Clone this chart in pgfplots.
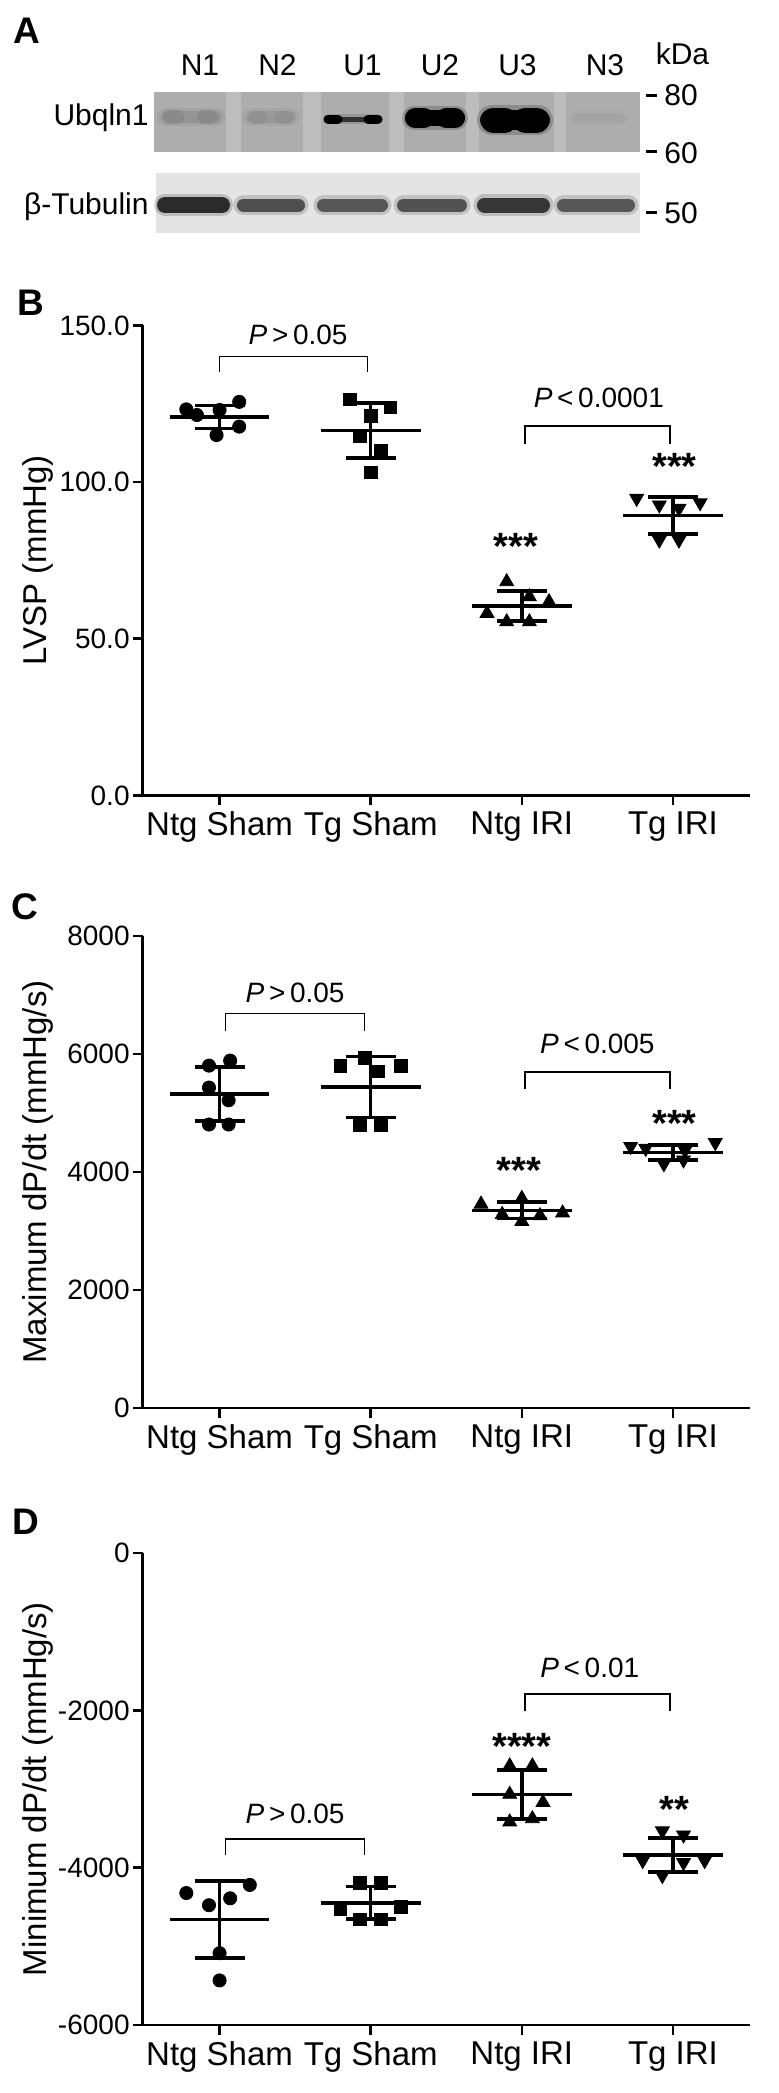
\documentclass[border=0pt]{standalone}
\usepackage{pgfplots}
\pgfplotsset{compat=1.18}
\usepackage{fontspec}
\setmainfont{Liberation Sans}

\definecolor{ubbg}{HTML}{ADADAD}
\definecolor{ubstripe}{HTML}{BDBDBD}
\definecolor{tubbg}{HTML}{E4E4E4}

\tikzset{
  ptxt/.style={font=\fontsize{14}{16}\selectfont},
  star/.style={font=\bfseries\fontsize{19}{20}\selectfont, anchor=base, yshift=-11pt},
  letter/.style={anchor=west, inner sep=0pt, font=\bfseries\fontsize{18.5}{20}\selectfont},
}

\pgfplotsset{
  panel/.style={
    scale only axis, width=303.75pt,
    axis lines*=left, axis line style={-, line width=1.3pt},
    tick style={line width=1.3pt, black}, major tick length=4.75pt, tick align=outside,
    xmin=-0.51, xmax=3.51, xtick={0,1,2,3},
    xticklabels={Ntg Sham, Tg Sham, Ntg IRI, Tg IRI},
    x tick label style={font=\fontsize{16.5}{18}\selectfont},
    y tick label style={font=\fontsize{14}{16}\selectfont, inner sep=1.5pt},
    ylabel style={font=\fontsize{16.5}{18}\selectfont, at={(axis description cs:-0.172,0.5)}, anchor=center},
    unbounded coords=jump, clip=false,
  },
  circ/.style={only marks, black, mark=*, mark size=3.3pt},
  sqr/.style={only marks, black, mark=square*, mark size=3.2pt},
  tup/.style={only marks, black, mark=triangle*, mark size=4pt},
  tdn/.style={only marks, black, mark=triangle*, mark size=4pt, mark options={rotate=180}},
  msd/.style={black, line width=1.8pt, mark=none},
  brk/.style={black, line width=0.7pt, mark=none},
  pill/.style={mark=none, line cap=round},
}

\begin{document}
\begin{tikzpicture}
\path[use as bounding box] (0,0) rectangle (389.5pt,-1046.5pt);

% panel letters
\node[letter] at (6.5pt,-15.5pt) {A};
\node[letter] at (8.5pt,-151.25pt) {B};
\node[letter] at (5.5pt,-453.5pt) {C};
\node[letter] at (6.25pt,-761pt) {D};

% ---------- A: western blot (pixel coordinates) ----------
\begin{axis}[
  at={(70pt,-122.5pt)}, anchor=south west,
  scale only axis, width=260pt, height=82.5pt,
  xmin=140, xmax=660, ymin=80, ymax=245, y dir=reverse,
  hide axis, clip=false,
]
% backgrounds
\addplot[draw=none, fill=ubbg] coordinates {(153.5,92)(639.5,92)(639.5,151.5)(153.5,151.5)};
\addplot[draw=none, fill=ubstripe] coordinates {(226,92)(241,92)(241,151.5)(226,151.5)};
\addplot[draw=none, fill=ubstripe] coordinates {(303,92)(321,92)(321,151.5)(303,151.5)};
\addplot[draw=none, fill=ubstripe] coordinates {(389,92)(404,92)(404,151.5)(389,151.5)};
\addplot[draw=none, fill=ubstripe] coordinates {(466,92)(479,92)(479,151.5)(466,151.5)};
\addplot[draw=none, fill=ubstripe] coordinates {(554,92)(566,92)(566,151.5)(554,151.5)};
\addplot[draw=none, fill=tubbg] coordinates {(156,173)(639.5,173)(639.5,233)(156,233)};

% Ubqln1 bands
\addplot[pill, color=black!40, line width=9pt, opacity=0.45] coordinates {(166,117)(216,117)};
\addplot[pill, color=black!42, line width=6pt] coordinates {(167,117)(215,117)};
\addplot[pill, color=black!47, line width=7pt, opacity=0.7] coordinates {(170,117)(177,117)};
\addplot[pill, color=black!47, line width=7pt, opacity=0.7] coordinates {(204,117)(211,117)};
\addplot[pill, color=black!38, line width=9pt, opacity=0.45] coordinates {(251,117)(291,117)};
\addplot[pill, color=black!40, line width=6pt] coordinates {(252,117)(290,117)};
\addplot[pill, color=black!44, line width=6.5pt, opacity=0.7] coordinates {(255,117)(261,117)};
\addplot[pill, color=black!44, line width=6.5pt, opacity=0.7] coordinates {(281,117)(287,117)};
\addplot[pill, color=black!50, line width=5pt, opacity=0.5] coordinates {(328,119)(378,119)};
\addplot[pill, color=black!80, line width=2.5pt] coordinates {(330,119)(376,119)};
\addplot[pill, color=black, line width=4.5pt] coordinates {(328,119)(338,119)};
\addplot[pill, color=black, line width=4.5pt] coordinates {(368,119)(378,119)};
\addplot[pill, color=black!60, line width=12pt, opacity=0.45] coordinates {(414,118)(456,118)};
\addplot[pill, color=black, line width=8pt] coordinates {(413,118)(457,118)};
\addplot[pill, color=black, line width=10pt] coordinates {(415,118)(424,118)};
\addplot[pill, color=black, line width=10pt] coordinates {(446,118)(455,118)};
\addplot[pill, color=black!60, line width=15pt, opacity=0.45] coordinates {(492,120)(538,120)};
\addplot[pill, color=black, line width=10pt] coordinates {(490,120)(540,120)};
\addplot[pill, color=black, line width=12.5pt] coordinates {(493,120)(505,120)};
\addplot[pill, color=black, line width=12.5pt] coordinates {(525,120)(537,120)};
\addplot[pill, color=black!33, line width=8pt, opacity=0.5] coordinates {(576,118)(621,118)};
\addplot[pill, color=black!36, line width=5pt] coordinates {(577,118)(620,118)};

% beta-tubulin bands
\addplot[pill, color=black!55, line width=11pt, opacity=0.35] coordinates {(165,205)(222,205)};
\addplot[pill, color=black!83, line width=8pt] coordinates {(165,205)(222,205)};
\addplot[pill, color=black!50, line width=10pt, opacity=0.35] coordinates {(243.5,205)(298.5,205)};
\addplot[pill, color=black!69, line width=6.5pt] coordinates {(243.5,205)(298.5,205)};
\addplot[pill, color=black!50, line width=10pt, opacity=0.35] coordinates {(323.5,205)(381.5,205)};
\addplot[pill, color=black!66, line width=6.5pt] coordinates {(323.5,205)(381.5,205)};
\addplot[pill, color=black!50, line width=10pt, opacity=0.35] coordinates {(403.5,205)(460.5,205)};
\addplot[pill, color=black!68, line width=6.5pt] coordinates {(403.5,205)(460.5,205)};
\addplot[pill, color=black!55, line width=11pt, opacity=0.35] coordinates {(484.5,205)(542.5,205)};
\addplot[pill, color=black!79, line width=7.5pt] coordinates {(484.5,205)(542.5,205)};
\addplot[pill, color=black!50, line width=10pt, opacity=0.35] coordinates {(563.5,205)(628.5,205)};
\addplot[pill, color=black!66, line width=6.5pt] coordinates {(563.5,205)(628.5,205)};

% marker dashes
\addplot[black, line width=1.5pt, mark=none] coordinates {(646,95)(657,95)};
\addplot[black, line width=1.5pt, mark=none] coordinates {(646,151)(657,151)};
\addplot[black, line width=1.5pt, mark=none] coordinates {(646,212)(657,212)};

\begin{scope}[font=\fontsize{15}{17}\selectfont]
\node at (axis cs:200,65) {N1};
\node at (axis cs:277.5,65) {N2};
\node at (axis cs:362.5,65) {U1};
\node at (axis cs:440,65) {U2};
\node at (axis cs:517.5,65) {U3};
\node at (axis cs:605,65) {N3};
\node at (axis cs:682.5,54) {kDa};
\node[anchor=west, inner sep=0pt] at (axis cs:664,95) {80};
\node[anchor=west, inner sep=0pt] at (axis cs:664,153) {60};
\node[anchor=west, inner sep=0pt] at (axis cs:664,213) {50};
\node[anchor=east, inner sep=0pt] at (axis cs:149,118) {Ubqln1};
\node[anchor=east, inner sep=0pt] at (axis cs:149,207) {β-Tubulin};
\end{scope}
\end{axis}

% ---------- B: LVSP ----------
\begin{axis}[panel,
  at={(71.25pt,-397.7pt)}, anchor=south west, height=235pt,
  ymin=0, ymax=150, ytick={0,50,100,150},
  yticklabels={0.0,50.0,100.0,150.0},
  ylabel={LVSP (mmHg)},
]
\addplot[circ] coordinates {(-0.22,123.2)(-0.15,121.4)(0.13,125.6)(0.13,117.7)(-0.02,115.0)(0,123.0)};
\addplot[sqr] coordinates {(0.86,126.4)(1.13,123.8)(1.0,121.2)(0.93,114.6)(1.07,110.1)(1.0,103.1)};
\addplot[tup] coordinates {(1.9,68.2)(2.05,63.4)(2.18,61.8)(1.77,58.1)(1.9,55.4)(2.05,55.4)};
\addplot[tdn] coordinates {(2.76,94.8)(2.91,92.7)(3.04,91.6)(3.18,93.4)(2.91,81.5)(3.04,81.5)};
% mean and SD
\addplot[msd] coordinates {(-0.33,120.8)(0.33,120.8)(0,nan)(0,117.1)(0,124.5)(0,nan)(-0.165,124.5)(0.165,124.5)(0,nan)(-0.165,117.1)(0.165,117.1)};
\addplot[msd] coordinates {(0.67,116.4)(1.33,116.4)(1,nan)(1,107.6)(1,125.2)(1,nan)(0.835,125.2)(1.165,125.2)(1,nan)(0.835,107.6)(1.165,107.6)};
\addplot[msd] coordinates {(1.67,60.5)(2.33,60.5)(2,nan)(2,55.7)(2,65.3)(2,nan)(1.835,65.3)(2.165,65.3)(2,nan)(1.835,55.7)(2.165,55.7)};
\addplot[msd] coordinates {(2.67,89.3)(3.33,89.3)(3,nan)(3,83.4)(3,95.2)(3,nan)(2.835,95.2)(3.165,95.2)(3,nan)(2.835,83.4)(3.165,83.4)};
% comparisons
\addplot[brk] coordinates {(0,135.2)(0,140.0)(0.98,140.0)(0.98,135.2)};
\addplot[brk] coordinates {(2.02,112.3)(2.02,117.9)(2.98,117.9)(2.98,112.3)};
\node[ptxt] at (axis cs:0.52,147.0) {\textit{P}\,>\,0.05};
\node[ptxt] at (axis cs:2.51,126.8) {\textit{P}\,<\,0.0001};
\node[star] at (axis cs:1.96,82.2) {***};
\node[star] at (axis cs:3.01,107.7) {***};
\end{axis}

% ---------- C: maximum dP/dt ----------
\begin{axis}[panel,
  at={(71.25pt,-704pt)}, anchor=south west, height=236pt,
  ymin=0, ymax=8000, ytick={0,2000,4000,6000,8000},
  yticklabels={0,2000,4000,6000,8000},
  ylabel={Maximum dP/dt (mmHg/s)},
]
\addplot[circ] coordinates {(-0.07,5803)(0.07,5888)(-0.07,5431)(0.06,5216)(-0.07,4805)(0.06,4805)};
\addplot[sqr] coordinates {(0.8,5803)(1.2,5803)(1.05,5705)(0.96,5930)(0.93,4792)(1.07,4792)};
\addplot[tup] coordinates {(1.73,3456)(2.0,3553)(2.27,3306)(1.87,3280)(2.12,3260)(2.0,3162)};
\addplot[tdn] coordinates {(2.72,4434)(3.28,4499)(2.82,4401)(3.08,4368)(2.94,4140)(3.07,4205)};
\addplot[msd] coordinates {(-0.33,5325)(0.33,5325)(0,nan)(0,4865)(0,5785)(0,nan)(-0.165,5785)(0.165,5785)(0,nan)(-0.165,4865)(0.165,4865)};
\addplot[msd] coordinates {(0.67,5440)(1.33,5440)(1,nan)(1,4925)(1,5955)(1,nan)(0.835,5955)(1.165,5955)(1,nan)(0.835,4925)(1.165,4925)};
\addplot[msd] coordinates {(1.67,3350)(2.33,3350)(2,nan)(2,3210)(2,3490)(2,nan)(1.835,3490)(2.165,3490)(2,nan)(1.835,3210)(2.165,3210)};
\addplot[msd] coordinates {(2.67,4330)(3.33,4330)(3,nan)(3,4200)(3,4460)(3,nan)(2.835,4460)(3.165,4460)(3,nan)(2.835,4200)(3.165,4200)};
\addplot[brk] coordinates {(0.04,6390)(0.04,6683)(0.96,6683)(0.96,6390)};
\addplot[brk] coordinates {(2.02,5399)(2.02,5692)(2.98,5692)(2.98,5399)};
\node[ptxt] at (axis cs:0.5,7042) {\textit{P}\,>\,0.05};
\node[ptxt] at (axis cs:2.5,6174) {\textit{P}\,<\,0.005};
\node[star] at (axis cs:1.98,4173) {***};
\node[star] at (axis cs:3.01,4975) {***};
\end{axis}

% ---------- D: minimum dP/dt ----------
\begin{axis}[panel,
  at={(71.25pt,-1012.5pt)}, anchor=south west, height=236pt,
  ymin=-6000, ymax=0, ytick={-6000,-4000,-2000,0},
  yticklabels={-6000,-4000,-2000,0},
  ylabel={Minimum dP/dt (mmHg/s)},
]
\addplot[circ] coordinates {(-0.22,-4322)(0.2,-4219)(-0.07,-4477)(0.07,-4389)(0,-5087)(0,-5433)};
\addplot[sqr] coordinates {(0.93,-4193)(1.07,-4193)(0.8,-4529)(1.2,-4503)(0.93,-4658)(1.07,-4658)};
\addplot[tup] coordinates {(1.92,-2706)(2.07,-2706)(1.92,-3067)(2.14,-3171)(1.92,-3419)(2.07,-3377)};
\addplot[tdn] coordinates {(2.93,-3532)(3.07,-3584)(2.8,-3909)(3.21,-3909)(3.07,-3935)(2.93,-4100)};
\addplot[msd] coordinates {(-0.33,-4658)(0.33,-4658)(0,nan)(0,-5148)(0,-4168)(0,nan)(-0.165,-4168)(0.165,-4168)(0,nan)(-0.165,-5148)(0.165,-5148)};
\addplot[msd] coordinates {(0.67,-4445)(1.33,-4445)(1,nan)(1,-4650)(1,-4240)(1,nan)(0.835,-4240)(1.165,-4240)(1,nan)(0.835,-4650)(1.165,-4650)};
\addplot[msd] coordinates {(1.67,-3070)(2.33,-3070)(2,nan)(2,-3380)(2,-2760)(2,nan)(1.835,-2760)(2.165,-2760)(2,nan)(1.835,-3380)(2.165,-3380)};
\addplot[msd] coordinates {(2.67,-3838)(3.33,-3838)(3,nan)(3,-4053)(3,-3623)(3,nan)(2.835,-3623)(3.165,-3623)(3,nan)(2.835,-4053)(3.165,-4053)};
\addplot[brk] coordinates {(0.04,-3842)(0.04,-3635)(0.96,-3635)(0.96,-3842)};
\addplot[brk] coordinates {(2.02,-2014)(2.02,-1792)(2.98,-1792)(2.98,-2014)};
\node[ptxt] at (axis cs:0.5,-3315) {\textit{P}\,>\,0.05};
\node[ptxt] at (axis cs:2.45,-1456) {\textit{P}\,<\,0.01};
\node[star] at (axis cs:2.0,-2350) {****};
\node[star] at (axis cs:3.01,-3150) {**};
\end{axis}
\end{tikzpicture}
\end{document}
